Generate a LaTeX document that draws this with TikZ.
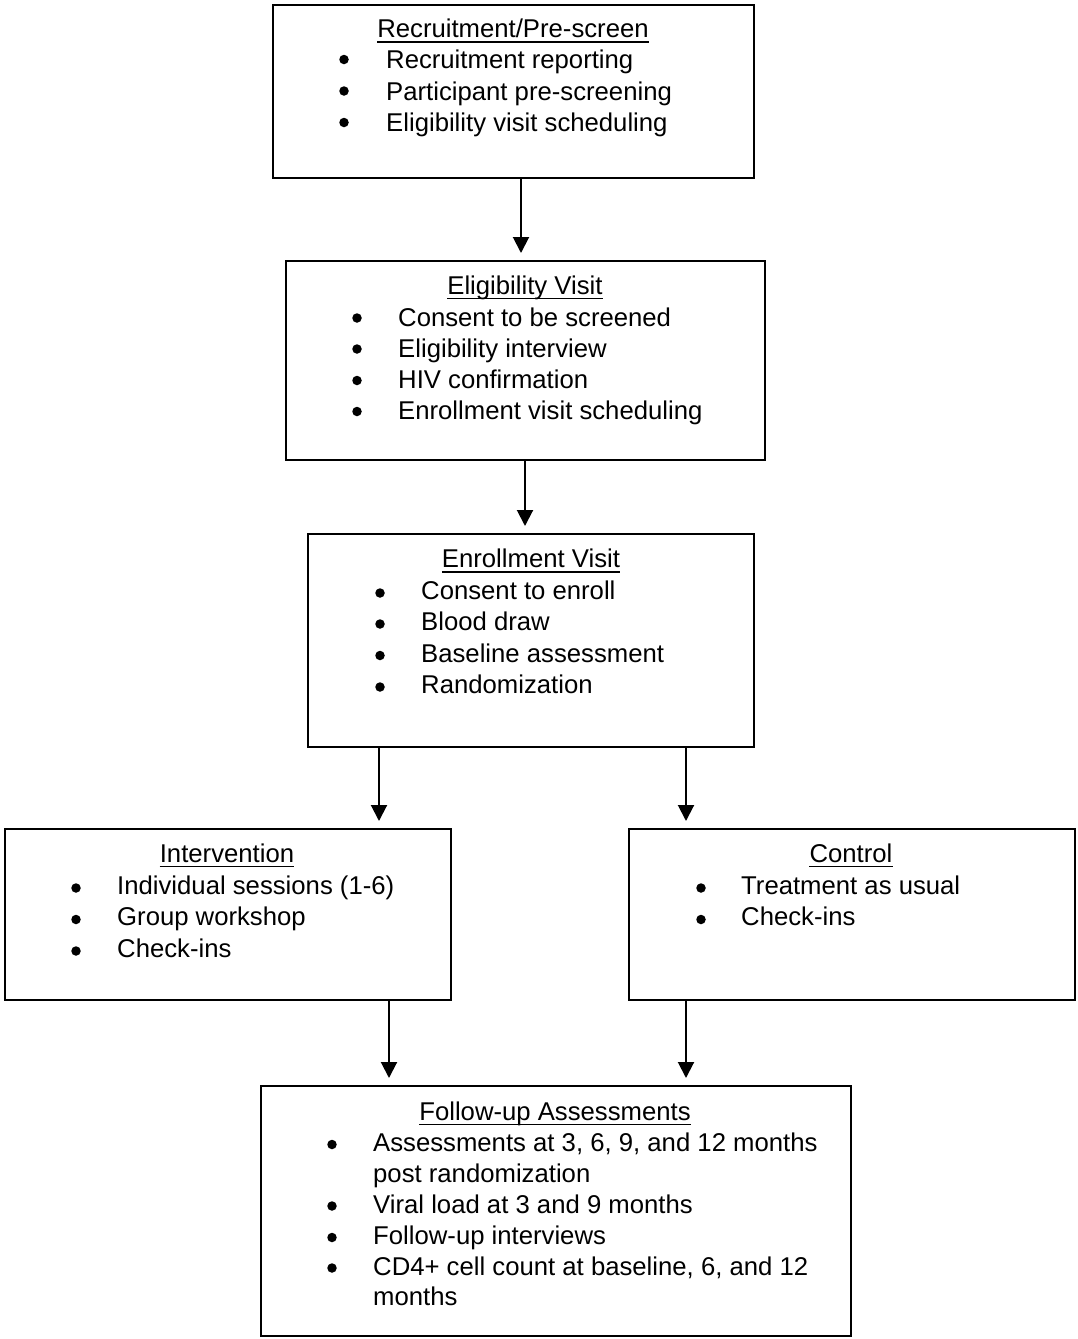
\documentclass[tikz,border=0pt]{standalone}
\usepackage{fontspec}
\setmainfont{Liberation Sans}
\usetikzlibrary{arrows.meta}
\tikzset{
  box/.style={draw=black, line width=1.5pt, fill=white, inner sep=0pt, anchor=north west},
  txt/.style={inner sep=0pt, anchor=base west, font=\fontsize{25.7}{30}\selectfont},
  ttl/.style={inner sep=0pt, anchor=base, font=\fontsize{25.7}{30}\selectfont},
  bul/.style={circle, fill=black, inner sep=0pt, minimum size=9.5pt},
  ulin/.style={line width=1.4pt},
  arr/.style={line width=2pt, -{Triangle[width=16pt,length=16pt]}, shorten >=7pt}
}
\begin{document}
\begin{tikzpicture}[x=1pt,y=-1pt]
\useasboundingbox (0,0) rectangle (1078,1339);
\fill[white] (0,0) rectangle (1078,1339);
% boxes
\node[box, minimum width=481pt, minimum height=173pt] (b1) at (272,4) {};
\node[box, minimum width=479pt, minimum height=199pt] (b2) at (285,260) {};
\node[box, minimum width=446pt, minimum height=213pt] (b3) at (307,533) {};
\node[box, minimum width=446pt, minimum height=171pt] (b4) at (4,828) {};
\node[box, minimum width=446pt, minimum height=171pt] (b5) at (628,828) {};
\node[box, minimum width=590pt, minimum height=250pt] (b6) at (260,1085) {};
% box 1
\node[ttl] (t1) at (513,37) {Recruitment/Pre-screen};
\draw[ulin] ([yshift=-5pt]t1.base west) -- ([yshift=-5pt]t1.base east);
\node[bul] (b1u1) at (344,59.5) {}; \node[txt] (b1l1) at (386,68.5) {Recruitment reporting};
\node[bul] (b1u2) at (344,91) {}; \node[txt] (b1l2) at (386,100) {Participant pre-screening};
\node[bul] (b1u3) at (344,122.5) {}; \node[txt] (b1l3) at (386,131.5) {Eligibility visit scheduling};
% box 2
\node[ttl] (t2) at (525,294) {Eligibility Visit};
\draw[ulin] ([yshift=-4.5pt]t2.base west) -- ([yshift=-4.5pt]t2.base east);
\node[bul] (b2u1) at (357,318) {}; \node[txt] (b2l1) at (398,326) {Consent to be screened};
\node[bul] (b2u2) at (357,349) {}; \node[txt] (b2l2) at (398,357) {Eligibility interview};
\node[bul] (b2u3) at (357,380.5) {}; \node[txt] (b2l3) at (398,388.5) {HIV confirmation};
\node[bul] (b2u4) at (357,411.5) {}; \node[txt] (b2l4) at (398,419.5) {Enrollment visit scheduling};
% box 3
\node[ttl] (t3) at (531,567.5) {Enrollment Visit};
\draw[ulin] ([yshift=-4.5pt]t3.base west) -- ([yshift=-4.5pt]t3.base east);
\node[bul] (b3u1) at (380,593) {}; \node[txt] (b3l1) at (421,599) {Consent to enroll};
\node[bul] (b3u2) at (380,624) {}; \node[txt] (b3l2) at (421,630.5) {Blood draw};
\node[bul] (b3u3) at (380,655.5) {}; \node[txt] (b3l3) at (421,662) {Baseline assessment};
\node[bul] (b3u4) at (380,687) {}; \node[txt] (b3l4) at (421,693) {Randomization};
% box 4
\node[ttl] (t4) at (227,862) {Intervention};
\draw[ulin] ([yshift=-4.5pt]t4.base west) -- ([yshift=-4.5pt]t4.base east);
\node[bul] (b4u1) at (76,888) {}; \node[txt] (b4l1) at (117,894) {Individual sessions (1-6)};
\node[bul] (b4u2) at (76,919.5) {}; \node[txt] (b4l2) at (117,925) {Group workshop};
\node[bul] (b4u3) at (76,951) {}; \node[txt] (b4l3) at (117,957) {Check-ins};
% box 5
\node[ttl] (t5) at (851,862) {Control};
\draw[ulin] ([yshift=-4.5pt]t5.base west) -- ([yshift=-4.5pt]t5.base east);
\node[bul] (b5u1) at (701,888) {}; \node[txt] (b5l1) at (741,894) {Treatment as usual};
\node[bul] (b5u2) at (701,919.5) {}; \node[txt] (b5l2) at (741,925) {Check-ins};
% box 6
\node[ttl] (t6) at (555,1120) {Follow-up Assessments};
\draw[ulin] ([yshift=-4.5pt]t6.base west) -- ([yshift=-4.5pt]t6.base east);
\node[bul] (b6u1) at (332,1144.5) {}; \node[txt] (b6l1) at (373,1151.5) {Assessments at 3, 6, 9, and 12 months};
\node[txt] (b6l1b) at (373,1182) {post randomization};
\node[bul] (b6u2) at (332,1206) {}; \node[txt] (b6l2) at (373,1213) {Viral load at 3 and 9 months};
\node[bul] (b6u3) at (332,1237.5) {}; \node[txt] (b6l3) at (373,1244) {Follow-up interviews};
\node[bul] (b6u4) at (332,1268) {}; \node[txt] (b6l4) at (373,1275) {CD4+ cell count at baseline, 6, and 12};
\node[txt] (b6l4b) at (373,1305) {months};
% arrows
\draw[arr] (b1.south -| 521,0) -- (b2.north -| 521,0);
\draw[arr] (b2.south -| 525,0) -- (b3.north -| 525,0);
\draw[arr] (b3.south -| 379,0) -- (b4.north -| 379,0);
\draw[arr] (b3.south -| 686,0) -- (b5.north -| 686,0);
\draw[arr] (b4.south -| 389,0) -- (b6.north -| 389,0);
\draw[arr] (b5.south -| 686,0) -- (b6.north -| 686,0);
\end{tikzpicture}
\end{document}
